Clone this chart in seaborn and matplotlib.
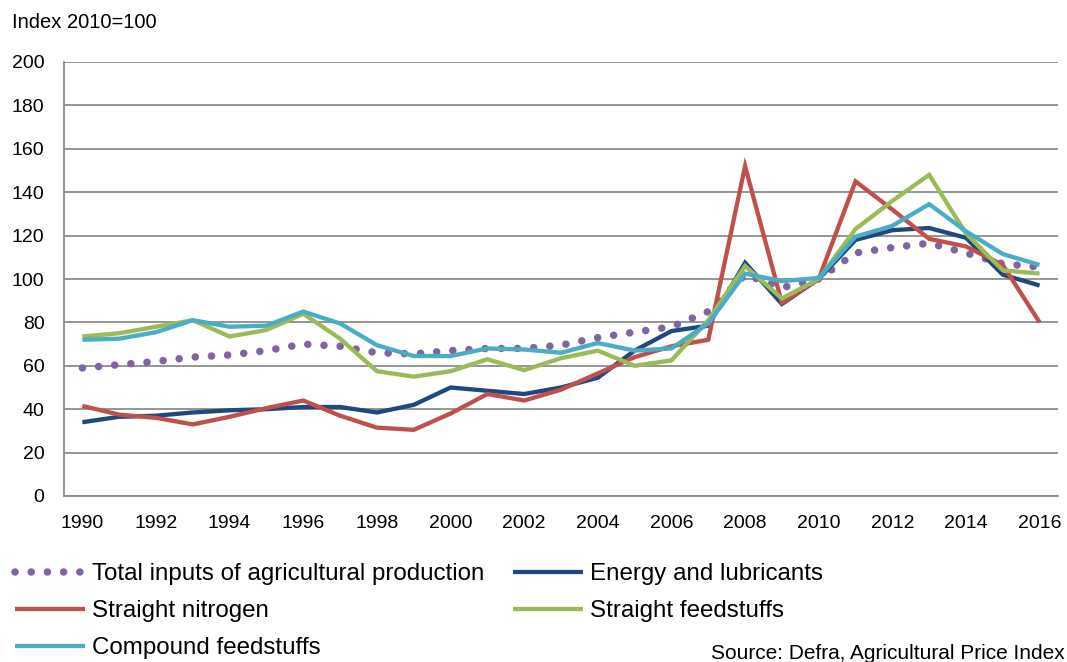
import numpy as np
import pandas as pd
import seaborn as sns
import matplotlib
matplotlib.use("Agg")
from matplotlib import pyplot as plt
from matplotlib.ticker import MultipleLocator, FixedLocator

years = list(range(1990, 2017))
total = [59, 60.5, 62, 64, 65, 67, 70, 69, 66, 65.5, 67, 68, 68, 69.5, 73, 75.5, 78, 85, 102, 96,
         100, 112, 114.5, 116.5, 112, 107, 105.5]
energy = [34, 36.5, 37, 38.5, 39.5, 40, 41, 41, 38.5, 42, 50, 48.5, 47, 50, 54.5, 67, 76, 78.5, 107.5, 88.5,
          100, 118, 122.5, 123.5, 119, 102, 97]
nitrogen = [41.5, 37.5, 36, 33, 36.5, 40.5, 44, 37, 31.5, 30.5, 38, 47, 44, 49, 56.5, 64, 69, 72, 152, 89,
            100, 145, 132, 118.5, 115, 106.5, 80]
straight = [73.5, 75, 78, 81, 73.5, 76.5, 84, 72.5, 57.5, 55, 57.5, 63, 58, 63.5, 67, 60, 62.5, 81, 106, 91,
            100, 123, 136, 148, 121, 104, 102.5]
compound = [72, 72.5, 75.5, 81, 78, 78.5, 85, 79.5, 69.5, 64.5, 64.5, 68, 67.5, 66, 70.5, 67, 68, 79.5, 102.5, 99,
            100.5, 119.5, 124.5, 134.5, 122, 111.5, 106.5]

names = ["Total inputs of agricultural production", "Energy and lubricants",
         "Straight nitrogen", "Straight feedstuffs", "Compound feedstuffs"]
colors = ["#8064A2", "#1F497D", "#C0504D", "#9BBB59", "#4BACC6"]

df = pd.DataFrame({"Year": years, names[0]: total, names[1]: energy, names[2]: nitrogen,
                   names[3]: straight, names[4]: compound})
long = df.melt(id_vars="Year", var_name="Series", value_name="Index")

sns.set_style("white")
plt.rcParams["font.family"] = ["Liberation Sans", "DejaVu Sans"]
plt.rcParams["text.color"] = "black"
plt.rcParams["xtick.color"] = "black"
plt.rcParams["ytick.color"] = "black"

fig = plt.figure(figsize=(10.67, 6.62), dpi=100)
ax = fig.add_axes([64 / 1067, 166 / 662, 994 / 1067, 434 / 662])

sns.lineplot(data=long, x="Year", y="Index", hue="Series", hue_order=names,
             palette=colors, ax=ax, legend=False, linewidth=3.1)

lines = ax.get_lines()
for ln in lines:
    ln.set_solid_capstyle("butt")
    ln.set_solid_joinstyle("miter")
dot = lines[0]
dot.set_linewidth(5.4)
dot.set_linestyle((0, (0.01, 2.15)))
dot.set_dash_capstyle("round")
dot.set_zorder(1.5)
for ln in lines[1:]:
    ln.set_zorder(2)

ax.set_xlim(1989.5, 2016.5)
ax.set_ylim(0, 200)
ax.yaxis.set_major_locator(MultipleLocator(20))
ax.xaxis.set_major_locator(FixedLocator(years[::2]))
ax.xaxis.set_minor_locator(FixedLocator(np.arange(1989.5, 2017, 1)))
ax.tick_params(axis="x", which="major", length=0, pad=14, labelsize=14, labelcolor="black")
ax.tick_params(axis="x", which="minor", length=5, width=1.2, color="#8C8C8C", direction="out")
ax.tick_params(axis="y", length=0, pad=14, labelsize=14, labelcolor="black")
ax.grid(axis="y", color="#8C8C8C", linewidth=1.3)
ax.set_axisbelow(True)
for s in ["top", "right"]:
    ax.spines[s].set_visible(False)
for s in ["left", "bottom"]:
    ax.spines[s].set_color("#8C8C8C")
    ax.spines[s].set_linewidth(1.3)
ax.set_xlabel("")
ax.set_ylabel("")

fig.text(12 / 1067, 1 - 22 / 662, "Index 2010=100", fontsize=14.5, va="center", ha="left")

order = [0, 2, 4, 1, 3]
leg = fig.legend([lines[i] for i in order], [names[i] for i in order], ncol=2,
                 loc="upper left", bbox_to_anchor=(15 / 1067, 1 - 563 / 662),
                 frameon=False, fontsize=17.4, handlelength=2.9, handletextpad=0.3,
                 columnspacing=1.15, labelspacing=0.62, borderpad=0, borderaxespad=0)
for h in leg.legend_handles:
    h.set_solid_capstyle("butt")

fig.text(1065 / 1067, 3 / 662, "Source: Defra, Agricultural Price Index", fontsize=15,
         ha="right", va="baseline")

fig.savefig("out.png", dpi=100)
